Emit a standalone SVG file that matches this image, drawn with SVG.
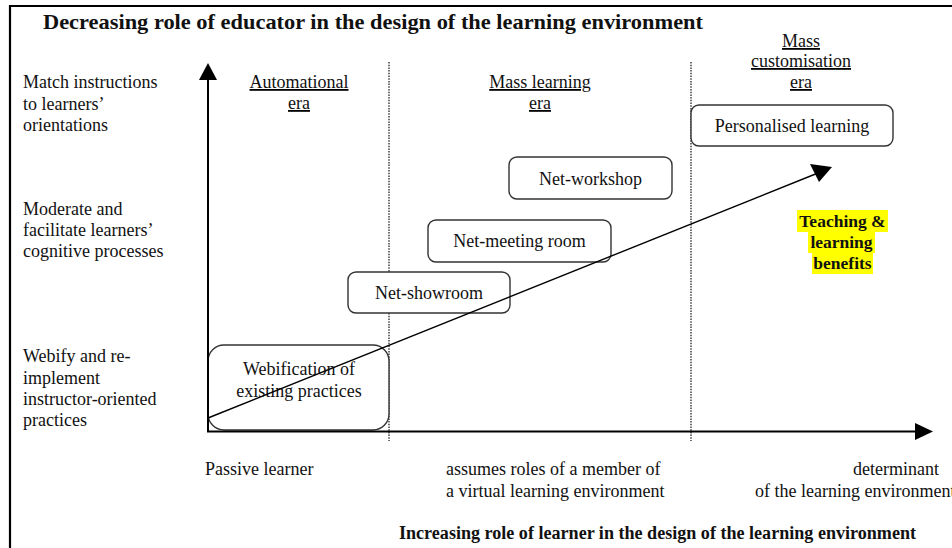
<svg xmlns="http://www.w3.org/2000/svg" width="952" height="548" viewBox="0 0 952 548">
<defs>
<style>
text{font-family:"Liberation Serif","Times New Roman",serif;fill:#111;}
.t{font-size:18px;}
.c{text-anchor:middle;}
.b{font-weight:bold;}
.u{text-decoration:underline;}
.box{fill:#fff;stroke:#333;stroke-width:1.4;}
.axis{stroke:#000;stroke-width:2;fill:none;}
.dot{stroke:#222;stroke-width:1.3;stroke-dasharray:1.5 1.2;fill:none;}
.hl{fill:#ffff00;}
</style>
</defs>
<rect x="0" y="0" width="952" height="548" fill="#fff"/>
<g id="frame">
<line x1="9" y1="6" x2="952" y2="6" stroke="#000" stroke-width="2.2"/>
<line x1="10" y1="5" x2="10" y2="548" stroke="#000" stroke-width="2.2"/>
</g>
<text id="title" x="43" y="29" class="b" font-size="21" textLength="660" lengthAdjust="spacingAndGlyphs">Decreasing role of educator in the design of the learning environment</text>
<g id="dividers">
<line class="dot" x1="389" y1="62" x2="389" y2="441"/>
<line class="dot" x1="691" y1="62" x2="691" y2="441"/>
</g>
<g id="y-labels" class="t">
<text x="23" y="88">Match instructions</text>
<text x="23" y="110">to learners’</text>
<text x="23" y="131">orientations</text>
<text x="23" y="215">Moderate and</text>
<text x="23" y="236">facilitate learners’</text>
<text x="23" y="257">cognitive processes</text>
<text x="23" y="362">Webify and re-</text>
<text x="23" y="384">implement</text>
<text x="23" y="405">instructor-oriented</text>
<text x="23" y="426">practices</text>
</g>
<g id="eras" class="t c u">
<text x="299" y="88">Automational</text>
<text x="299" y="109">era</text>
<text x="540" y="88">Mass learning</text>
<text x="540" y="109">era</text>
<text x="801" y="47">Mass</text>
<text x="801" y="67">customisation</text>
<text x="801" y="88">era</text>
</g>
<g id="node-webification">
<rect class="box" x="208" y="345" width="181" height="85" rx="16"/>
<text class="t c" x="299" y="375">Webification of</text>
<text class="t c" x="299" y="397">existing practices</text>
</g>
<g id="node-showroom">
<rect class="box" x="348" y="272" width="162" height="41" rx="8"/>
<text class="t c" x="429" y="299">Net-showroom</text>
</g>
<g id="node-meeting">
<rect class="box" x="428" y="220" width="183" height="42" rx="8"/>
<text class="t c" x="519.5" y="247">Net-meeting room</text>
</g>
<g id="node-workshop">
<rect class="box" x="509" y="157" width="163" height="42" rx="8"/>
<text class="t c" x="590.5" y="185">Net-workshop</text>
</g>
<g id="node-personalised">
<rect class="box" x="691" y="105" width="202" height="41" rx="8"/>
<text class="t c" x="792" y="132">Personalised learning</text>
</g>
<g id="connectors">
<line class="axis" x1="208" y1="78" x2="208" y2="432"/>
<polygon points="208,63 199,80 217,80" fill="#000"/>
<line class="axis" x1="207" y1="431.5" x2="918" y2="431.5"/>
<polygon points="933,431.5 915,423 915,440" fill="#000"/>
<line x1="208" y1="418" x2="818" y2="173" stroke="#000" stroke-width="1.4"/>
<polygon points="832,167 810,164 819,182" fill="#000"/>
</g>
<g id="benefits">
<rect class="hl" x="797" y="210" width="91" height="22"/>
<rect class="hl" x="808" y="232" width="67" height="21"/>
<rect class="hl" x="812" y="253" width="61" height="21"/>
<text class="c b" font-size="17.5" x="842.5" y="227">Teaching &amp;</text>
<text class="c b" font-size="17.5" x="841.5" y="248">learning</text>
<text class="c b" font-size="17.5" x="842.5" y="269">benefits</text>
</g>
<g id="x-labels" class="t">
<text x="205" y="475">Passive learner</text>
<text x="446" y="475">assumes roles of a member of</text>
<text x="446" y="497">a virtual learning environment</text>
<text x="853" y="475">determinant</text>
<text x="755" y="497">of the learning environment</text>
</g>
<text id="x-title" x="399" y="539" class="b" font-size="18" textLength="517" lengthAdjust="spacingAndGlyphs">Increasing role of learner in the design of the learning environment</text>
</svg>
